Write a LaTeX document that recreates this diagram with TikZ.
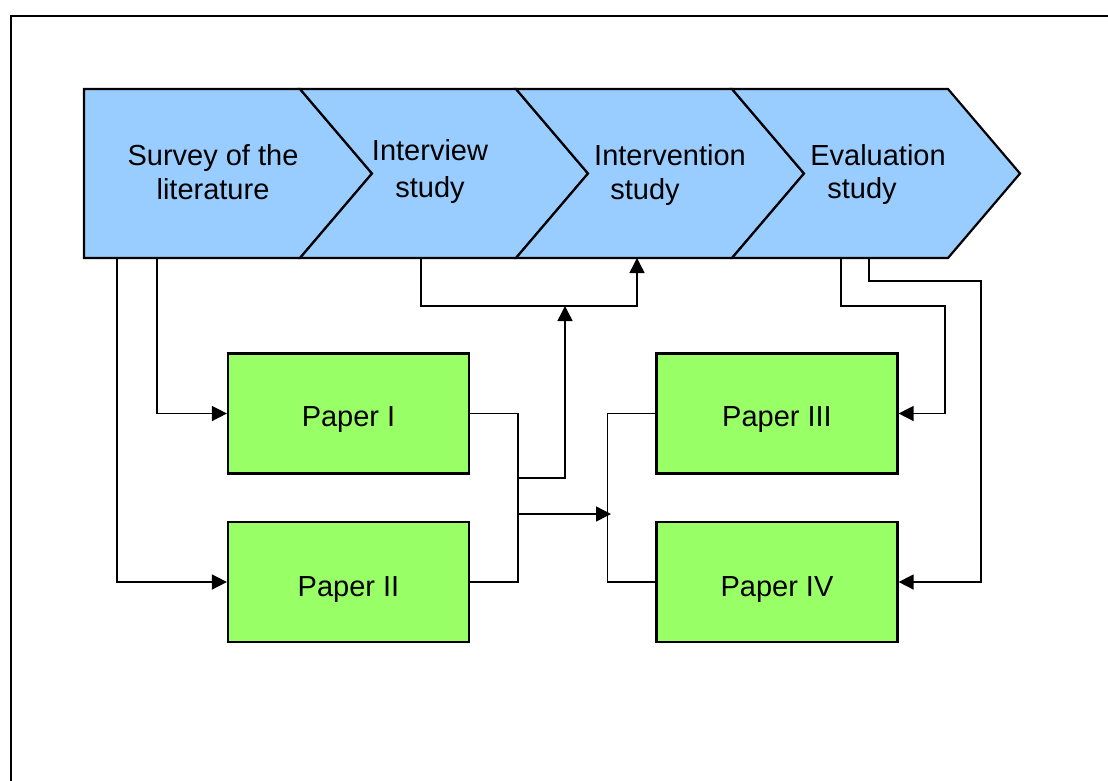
\documentclass[tikz,border=0pt]{standalone}
\usepackage{fontspec}
\setmainfont{Liberation Sans}
\usetikzlibrary{arrows.meta,calc}
\definecolor{stageblue}{HTML}{99CCFF}
\definecolor{papergreen}{HTML}{99FF66}
\begin{document}
\begin{tikzpicture}[x=1pt,y=-1pt,
  stagearea/.style={minimum width=216pt,minimum height=169pt,inner sep=0pt,outer sep=0pt},
  stageshape/.style={draw=black,line width=2.2pt,fill=stageblue,line join=miter},
  label/.style={anchor=base,inner sep=0pt,font=\fontsize{29}{34}\selectfont},
  paper/.style={draw=black,line width=2.2pt,fill=papergreen,minimum width=241pt,minimum height=120pt,inner sep=0pt},
  link/.style={line width=1.5pt},
  arr/.style={link,-{Triangle[length=15pt,width=15pt]}}]
\useasboundingbox (0,0) rectangle (1108,780);
% outer frame
\draw[line width=2pt] (11,800) -- (11,16) -- (1130,16);
% stage areas
\node[stagearea] (s1) at (192,173.5) {};
\node[stagearea] (s2) at (408,173.5) {};
\node[stagearea] (s3) at (624,173.5) {};
\node[stagearea] (s4) at (840,173.5) {};
% chevron outlines
\draw[stageshape] (s1.north west) -- (s1.north east) -- ($(s1.east)+(72,0)$) -- (s1.south east) -- (s1.south west) -- cycle;
\foreach \s in {s2,s3,s4}{
  \draw[stageshape] (\s.north west) -- (\s.north east) -- ($(\s.east)+(72,0)$) -- (\s.south east) -- (\s.south west) -- ($(\s.west)+(72,0)$) -- cycle;
}
% stage labels
\node[label] (t1a) at (213,165) {Survey of the};
\node[label] (t1b) at (213,199) {literature};
\node[label] (t2a) at (430,160) {Interview};
\node[label] (t2b) at (430,197) {study};
\node[label] (t3a) at (670,165) {Intervention};
\node[label] (t3b) at (645,199) {study};
\node[label] (t4a) at (878,165) {Evaluation};
\node[label] (t4b) at (862,198) {study};
% papers
\node[paper] (p1) at (348.5,413.5) {};
\node[paper] (p2) at (348.5,582) {};
\node[paper] (p3) at (777,413.5) {};
\node[paper] (p4) at (777,582) {};
\node[label] (l1) at (348.5,426) {Paper I};
\node[label] (l2) at (348.5,596) {Paper II};
\node[label] (l3) at (777,426) {Paper III};
\node[label] (l4) at (777,596) {Paper IV};
% junction points
\coordinate (m1) at (565,306);
\coordinate (j2) at (517,478);
\coordinate (j4) at (517,514);
\coordinate (j5) at (611,514);
% connectors from the survey
\draw[arr] ([xshift=73pt]s1.south west) |- (p1.west);
\draw[arr] ([xshift=33pt]s1.south west) |- (p2.west);
% interview to intervention
\draw[arr] ([xshift=121pt]s2.south west) |- (m1) -| ([xshift=121pt]s3.south west);
\draw[arr] (j2) -| (m1);
% papers I and II joined
\draw[link] (p1.east) -- ++(48,0) |- (p2.east);
\draw[arr] (j4) -- (j5);
% papers III and IV joined
\draw[link] (p3.west) -- ++(-48,0) |- (p4.west);
% evaluation to papers III and IV
\draw[arr] ([xshift=109pt]s4.south west) -- ++(0,48) -- ++(104,0) |- (p3.east);
\draw[arr] ([xshift=137pt]s4.south west) -- ++(0,23) -- ++(112,0) |- (p4.east);
\end{tikzpicture}
\end{document}
